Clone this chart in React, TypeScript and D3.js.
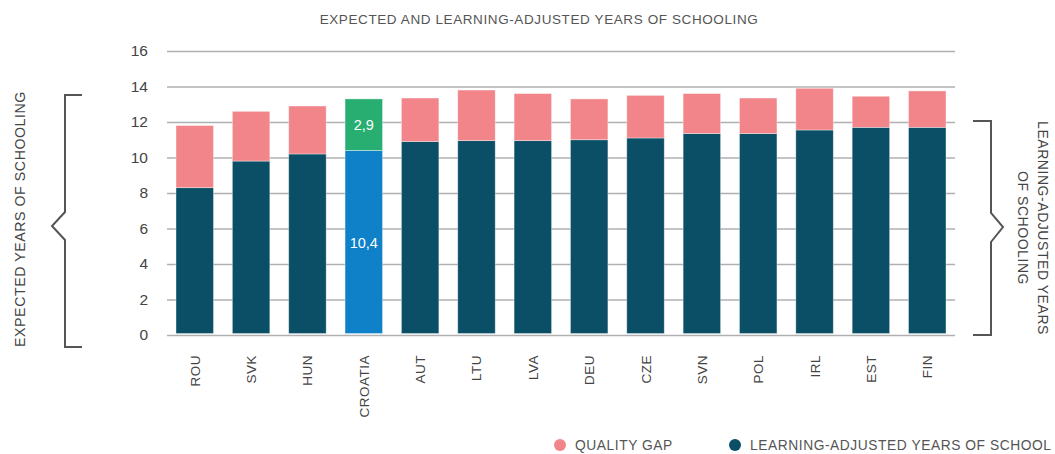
import React, { useEffect, useRef } from 'react';
import { axisLeft, scaleBand, scaleLinear, select } from 'd3';

const countries = ['ROU', 'SVK', 'HUN', 'CROATIA', 'AUT', 'LTU', 'LVA', 'DEU', 'CZE', 'SVN', 'POL', 'IRL', 'EST', 'FIN'];
const learningAdjusted = [8.3, 9.8, 10.2, 10.4, 10.9, 10.95, 10.95, 11.0, 11.1, 11.35, 11.35, 11.55, 11.7, 11.7];
const qualityGap = [3.5, 2.8, 2.7, 2.9, 2.45, 2.85, 2.65, 2.3, 2.4, 2.25, 2.0, 2.35, 1.75, 2.05];
const yTicks = [0, 2, 4, 6, 8, 10, 12, 14, 16];
const highlight = 'CROATIA';

const DARK = '#0a4f65';
const PINK = '#f28589';
const GREEN = '#27ae70';
const BLUE = '#0e81c8';
const FONT = '"Liberation Sans", Arial, sans-serif';

const App = () => {
  const ref = useRef<SVGSVGElement | null>(null);

  useEffect(() => {
    const svg = select(ref.current);
    svg.selectAll('*').remove();
    const width = 1055;
    const height = 454;
    svg.attr('width', width).attr('height', height).style('font-family', FONT);

    const left = 167;
    const right = 955;
    const x = scaleBand().domain(countries).range([left, right]).paddingInner(0.335).paddingOuter(0.16);
    const y = scaleLinear().domain([0, 16]).range([335, 51]);

    // title
    svg.append('text')
      .attr('x', 539).attr('y', 24)
      .attr('text-anchor', 'middle')
      .attr('fill', '#555').attr('font-size', 13.5).attr('letter-spacing', 0.6)
      .text('EXPECTED AND LEARNING-ADJUSTED YEARS OF SCHOOLING');

    // grid + y axis
    const ax = svg.append('g')
      .attr('transform', `translate(${left},0)`)
      .call(axisLeft(y).tickValues(yTicks).tickSize(-(right - left)).tickPadding(19).tickFormat((d) => String(d)));
    ax.select('.domain').remove();
    ax.selectAll('.tick line').attr('stroke', '#b0b0b2').attr('stroke-width', 1.6);
    ax.selectAll('.tick text').attr('fill', '#444').attr('font-size', 15.5).attr('font-family', FONT);

    // bars
    const g = svg.append('g');
    countries.forEach((c, i) => {
      const isHi = c === highlight;
      const bx = x(c) ?? 0;
      const base = learningAdjusted[i];
      const top = base + qualityGap[i];
      g.append('rect')
        .attr('x', bx).attr('width', x.bandwidth())
        .attr('y', y(base)).attr('height', y(0) - y(base) - 1.5)
        .attr('fill', isHi ? BLUE : DARK)
        .attr('stroke', 'rgba(255,255,255,0.45)').attr('stroke-width', 0.8);
      g.append('rect')
        .attr('x', bx).attr('width', x.bandwidth())
        .attr('y', y(top)).attr('height', y(base) - y(top))
        .attr('fill', isHi ? GREEN : PINK)
        .attr('stroke', 'rgba(255,255,255,0.45)').attr('stroke-width', 0.8);
      if (isHi) {
        g.append('text')
          .attr('x', bx + x.bandwidth() / 2).attr('y', y((base + top) / 2) + 5)
          .attr('text-anchor', 'middle').attr('fill', '#fff').attr('font-size', 14.5)
          .text(String(qualityGap[i]).replace('.', ','));
        g.append('text')
          .attr('x', bx + x.bandwidth() / 2).attr('y', y(base / 2) + 5)
          .attr('text-anchor', 'middle').attr('fill', '#fff').attr('font-size', 14.5)
          .text(String(base).replace('.', ','));
      }
      svg.append('text')
        .attr('transform', `translate(${bx + x.bandwidth() / 2 + 5},355) rotate(-90)`)
        .attr('text-anchor', 'end')
        .attr('fill', '#444').attr('font-size', 13.5).attr('letter-spacing', 0.5)
        .text(c);
    });

    // brackets
    const bracket = '#555';
    svg.append('path')
      .attr('d', 'M82,95 H65 V212 L52,226 L65,240 V347 H82')
      .attr('fill', 'none').attr('stroke', bracket).attr('stroke-width', 2);
    svg.append('path')
      .attr('d', 'M973,121 H991 V213 L1003,227 L991,242 V335 H973')
      .attr('fill', 'none').attr('stroke', bracket).attr('stroke-width', 2);

    svg.append('text')
      .attr('transform', 'translate(25,219) rotate(-90)')
      .attr('text-anchor', 'middle').attr('fill', '#444').attr('font-size', 14.2).attr('letter-spacing', 0.55)
      .text('EXPECTED YEARS OF SCHOOLING');
    svg.append('text')
      .attr('transform', 'translate(1038,228) rotate(90)')
      .attr('text-anchor', 'middle').attr('fill', '#444').attr('font-size', 14).attr('letter-spacing', 0.55)
      .text('LEARNING-ADJUSTED YEARS');
    svg.append('text')
      .attr('transform', 'translate(1018,228) rotate(90)')
      .attr('text-anchor', 'middle').attr('fill', '#444').attr('font-size', 14).attr('letter-spacing', 0.55)
      .text('OF SCHOOLING');

    // legend
    const legend = [
      { label: 'QUALITY GAP', color: PINK, cx: 560 },
      { label: 'LEARNING-ADJUSTED YEARS OF SCHOOL', color: DARK, cx: 735 },
    ];
    legend.forEach((l) => {
      svg.append('circle').attr('cx', l.cx).attr('cy', 445).attr('r', 6).attr('fill', l.color);
      svg.append('text')
        .attr('x', l.cx + 15).attr('y', 450)
        .attr('fill', '#555').attr('font-size', 13.8).attr('letter-spacing', 0.55)
        .text(l.label);
    });
  }, []);

  return <svg ref={ref} style={{ display: 'block', position: 'absolute', left: 0, top: 0 }} />;
};

export default App;
